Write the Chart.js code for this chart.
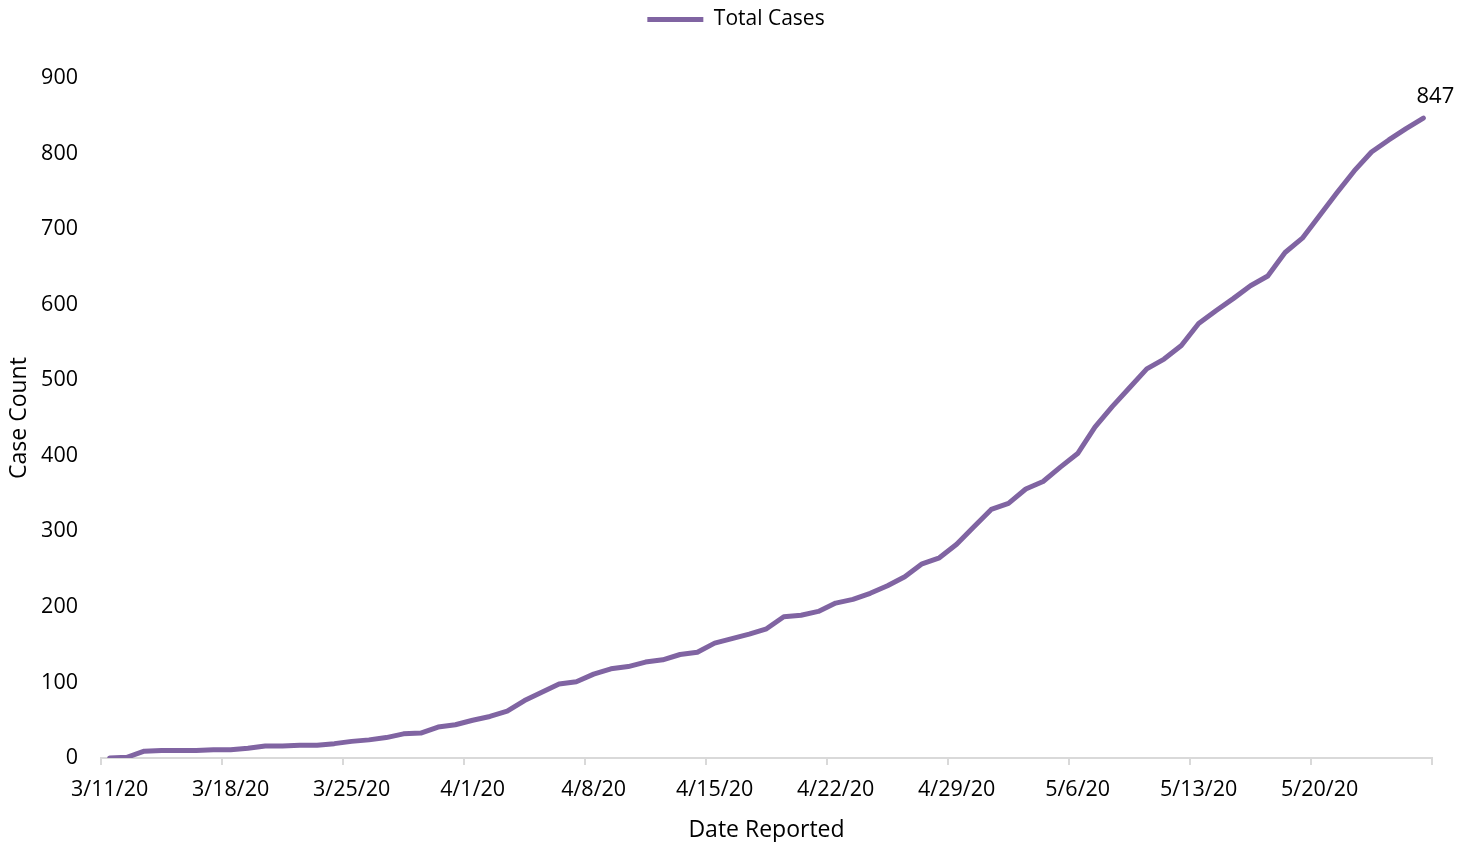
<!DOCTYPE html>
<html>
<head>
<meta charset="utf-8">
<title>Total Cases</title>
<script src="https://cdn.jsdelivr.net/npm/chart.js@4.4.1/dist/chart.umd.min.js"></script>
<style>
  html, body { margin: 0; padding: 0; background: #fff; }
  #wrap { width: 1472px; height: 842px; }
</style>
</head>
<body>
<div id="wrap"><canvas id="cases-chart" width="1472" height="842"></canvas></div>
<script>
// Report dates (one per day)
const dates = [
  '3/11/20', '3/12/20', '3/13/20', '3/14/20', '3/15/20', '3/16/20', '3/17/20',
  '3/18/20', '3/19/20', '3/20/20', '3/21/20', '3/22/20', '3/23/20', '3/24/20',
  '3/25/20', '3/26/20', '3/27/20', '3/28/20', '3/29/20', '3/30/20', '3/31/20',
  '4/1/20', '4/2/20', '4/3/20', '4/4/20', '4/5/20', '4/6/20', '4/7/20',
  '4/8/20', '4/9/20', '4/10/20', '4/11/20', '4/12/20', '4/13/20', '4/14/20',
  '4/15/20', '4/16/20', '4/17/20', '4/18/20', '4/19/20', '4/20/20', '4/21/20',
  '4/22/20', '4/23/20', '4/24/20', '4/25/20', '4/26/20', '4/27/20', '4/28/20',
  '4/29/20', '4/30/20', '5/1/20', '5/2/20', '5/3/20', '5/4/20', '5/5/20',
  '5/6/20', '5/7/20', '5/8/20', '5/9/20', '5/10/20', '5/11/20', '5/12/20',
  '5/13/20', '5/14/20', '5/15/20', '5/16/20', '5/17/20', '5/18/20', '5/19/20',
  '5/20/20', '5/21/20', '5/22/20', '5/23/20', '5/24/20', '5/25/20', '5/26/20'
];

// Cumulative case count per day
const totalCases = [
  0, 1, 9, 10, 10, 10, 11,
  11, 13, 16, 16, 17, 17, 19,
  22, 24, 27, 32, 33, 41, 44,
  50, 55, 62, 76, 87, 98, 101,
  111, 118, 121, 127, 130, 137, 140,
  152, 158, 164, 171, 187, 189, 194,
  205, 210, 218, 228, 240, 257, 265,
  283, 306, 329, 337, 356, 366, 385,
  403, 438, 465, 490, 515, 528, 546,
  575, 592, 608, 625, 638, 669, 688,
  718, 748, 777, 802, 818, 833, 847
];

// Only every 7th date gets a label and a tick mark
const labelEvery = 7;
const yTicks = [0, 100, 200, 300, 400, 500, 600, 700, 800, 900];

const purple = '#8064a2';
const axisGray = '#d9d9d9';
const fontFamily = '"Open Sans", "Noto Sans", sans-serif';

// Push the plot area down below the legend
const legendSpacer = {
  id: 'legendSpacer',
  beforeInit(chart) {
    const fit = chart.legend.fit;
    chart.legend.fit = function () {
      fit.bind(chart.legend)();
      this.height = 78;
    };
  },
  // legend is centred on the whole canvas, not on the padded area
  afterLayout(chart) {
    chart.legend.left += 20;
    chart.legend.right += 20;
  }
};

// Value label on the last point
const endLabel = {
  id: 'endLabel',
  afterDatasetsDraw(chart) {
    const meta = chart.getDatasetMeta(0);
    const last = meta.data[meta.data.length - 1];
    const ctx = chart.ctx;
    ctx.save();
    ctx.font = `22px ${fontFamily}`;
    ctx.fillStyle = '#000';
    ctx.textAlign = 'center';
    ctx.textBaseline = 'middle';
    ctx.fillText(String(totalCases[totalCases.length - 1]), last.x + 12, last.y - 21);
    ctx.restore();
  }
};

const ctx = document.getElementById('cases-chart').getContext('2d');

new Chart(ctx, {
  type: 'line',
  data: {
    labels: dates,
    datasets: [{
      label: 'Total Cases',
      data: totalCases,
      borderColor: purple,
      backgroundColor: purple,
      borderWidth: 5,
      borderCapStyle: 'round',
      borderJoinStyle: 'round',
      pointRadius: 0,
      pointHoverRadius: 0,
      tension: 0,
      fill: false
    }]
  },
  options: {
    responsive: false,
    animation: false,
    layout: {
      padding: { top: 0, right: 40, bottom: 0, left: 0 }
    },
    plugins: {
      tooltip: { enabled: false },
      legend: {
        position: 'top',
        labels: {
          usePointStyle: true,
          pointStyle: 'line',
          pointStyleWidth: 56,
          padding: 9,
          color: '#000',
          font: { family: fontFamily, size: 21 }
        }
      }
    },
    scales: {
      x: {
        type: 'category',
        offset: true,
        afterFit: (scale) => { scale.height = 84; },
        grid: {
          offset: true,
          drawOnChartArea: false,
          drawTicks: true,
          tickLength: 7,
          lineWidth: 2,
          color: (c) => (c.tick ? (c.index % labelEvery === 0 ? axisGray : 'rgba(0,0,0,0)') : axisGray)
        },
        border: { display: true, color: axisGray, width: 2 },
        ticks: {
          autoSkip: false,
          maxRotation: 0,
          minRotation: 0,
          padding: 12,
          color: '#000',
          font: { family: fontFamily, size: 21.5 },
          callback: function (value, index) {
            return index % labelEvery === 0 ? this.getLabelForValue(value) : '';
          }
        },
        title: {
          display: true,
          text: 'Date Reported',
          color: '#000',
          font: { family: fontFamily, size: 23 },
          padding: { top: 0, bottom: -2 }
        }
      },
      y: {
        min: yTicks[0],
        max: yTicks[yTicks.length - 1],
        afterFit: (scale) => { scale.width = 101; },
        afterBuildTicks: (scale) => { scale.ticks = yTicks.map(v => ({ value: v })); },
        grid: { display: false, drawTicks: false },
        border: { display: false },
        ticks: {
          padding: 23,
          color: '#000',
          font: { family: fontFamily, size: 21.5 }
        },
        title: {
          display: true,
          text: 'Case Count',
          color: '#000',
          font: { family: fontFamily, size: 23 },
          padding: { top: 6, bottom: 4 }
        }
      }
    }
  },
  plugins: [legendSpacer, endLabel]
});
</script>
</body>
</html>
